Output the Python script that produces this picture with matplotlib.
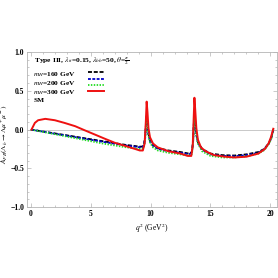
import matplotlib
matplotlib.use('Agg')
import matplotlib.pyplot as plt
from matplotlib.ticker import MultipleLocator

plt.rcParams['font.family'] = ['Liberation Serif', 'DejaVu Serif']
plt.rcParams['mathtext.fontset'] = 'stix'

# --- data ---
q_h = [0, 1, 2, 3, 4, 5, 6, 7, 8, 8.6, 9.0, 9.3, 9.45, 9.55, 9.62, 9.67, 9.72, 9.8, 9.95,
       10.2, 10.6, 11.5, 12.5, 13.2, 13.45, 13.55, 13.62, 13.66, 13.72, 13.8, 13.95,
       14.3, 15.0, 16.0, 17.0, 18.0, 19.0, 19.5, 19.9, 20.1, 20.25]
afb_160 = [0, -0.025, -0.05, -0.075, -0.10, -0.125, -0.15, -0.175, -0.20,
           -0.21, -0.22, -0.22, -0.19, -0.08, 0.08, 0.18, 0.10, -0.04, -0.14,
           -0.20, -0.24, -0.27, -0.29, -0.31, -0.29, -0.15, 0.10, 0.25, 0.12, -0.04, -0.16,
           -0.25, -0.31, -0.33, -0.335, -0.32, -0.29, -0.25, -0.17, -0.10, 0.0]
afb_200 = [0, -0.027, -0.054, -0.08, -0.106, -0.132, -0.158, -0.183, -0.207,
           -0.218, -0.228, -0.228, -0.20, -0.09, 0.07, 0.17, 0.09, -0.05, -0.15,
           -0.21, -0.25, -0.28, -0.30, -0.32, -0.30, -0.16, 0.09, 0.24, 0.11, -0.05, -0.17,
           -0.26, -0.32, -0.34, -0.345, -0.33, -0.30, -0.255, -0.175, -0.10, 0.0]
afb_300 = [0, -0.03, -0.06, -0.09, -0.12, -0.15, -0.18, -0.205, -0.23,
           -0.24, -0.25, -0.25, -0.22, -0.11, 0.05, 0.16, 0.08, -0.06, -0.17,
           -0.23, -0.27, -0.30, -0.32, -0.335, -0.315, -0.17, 0.08, 0.23, 0.10, -0.06, -0.18,
           -0.28, -0.34, -0.36, -0.36, -0.345, -0.31, -0.265, -0.18, -0.11, 0.0]

q_sm = [0.05, 0.33, 0.6, 1.2, 2.0, 2.8, 3.7, 4.5, 5.35, 6.2,
        7.0, 7.85, 8.7, 9.1, 9.35, 9.5, 9.6, 9.67, 9.74, 9.82,
        9.95, 10.2, 10.6, 11.5, 12.5, 13.1, 13.4, 13.52, 13.6, 13.66,
        13.73, 13.82, 13.95, 14.2, 14.6, 15.3, 16.2, 17.0, 18.0, 19.0,
        19.55, 19.85, 20.05, 20.25]
afb_sm = [0.0, 0.086, 0.12, 0.138, 0.12, 0.086, 0.043, -0.01, -0.065, -0.12,
          -0.17, -0.21, -0.25, -0.27, -0.27, -0.18, 0.1, 0.36, 0.22, 0.02,
          -0.1, -0.18, -0.23, -0.28, -0.31, -0.34, -0.34, -0.2, 0.15, 0.41,
          0.25, 0.02, -0.13, -0.23, -0.28, -0.33, -0.35, -0.36, -0.35, -0.31,
          -0.25, -0.18, -0.10, 0.01]

labels = [r'$m_H$=160 GeV', r'$m_H$=200 GeV', r'$m_H$=300 GeV', 'SM']

fig = plt.figure(figsize=(2.78, 2.78), dpi=100)
ax = fig.add_axes([0.097, 0.255, 0.899, 0.558])

frame = '#b4b4b4'
ax.axhline(0, color='#c8c8c8', lw=0.7, zorder=0)
l1, = ax.plot(q_h, afb_160, color='black', lw=1.3, ls=(0, (2.2, 1.0)))
l2, = ax.plot(q_h, afb_200, color='#0000cc', lw=1.3, ls=(0, (1.6, 0.8)))
l3, = ax.plot(q_h, afb_300, color='#22dd22', lw=1.3, ls=(0, (0.8, 0.8)))
l4, = ax.plot(q_sm, afb_sm, color='#ee1111', lw=1.4)

ax.set_xlim(-0.33, 20.55)
ax.set_ylim(-1, 1)
ax.xaxis.set_minor_locator(MultipleLocator(1))
ax.yaxis.set_minor_locator(MultipleLocator(0.1))
ax.set_yticks([-1, -0.5, 0, 0.5, 1])
ax.set_yticklabels(['\u22121.0', '\u22120.5', '0.0', '0.5', '1.0'])
ax.set_xticks([0, 5, 10, 15, 20])
ax.set_xticklabels(['0', '5', '10', '15', '20'])
ax.tick_params(which='both', direction='in', top=True, right=True, color=frame,
               labelsize=5.5, width=0.5, pad=2)
ax.tick_params(which='major', length=3)
ax.tick_params(which='minor', length=1.6)
for lab in ax.get_xticklabels() + ax.get_yticklabels():
    lab.set_fontweight('bold')
for s in ax.spines.values():
    s.set_color(frame)
    s.set_linewidth(0.6)

ax.set_xlabel(r'$q^2$ (GeV$^2$)', fontsize=5.5, labelpad=3)
ax.set_ylabel(r'$A_{FB}(\Lambda_b\rightarrow\Lambda\mu^+\mu^-)$', fontsize=5.3)
ax.yaxis.set_label_coords(-0.072, 0.47)

ax.text(0.03, 0.94, r'Type III, $\lambda_{tt}$=0.15, $\lambda_{bb}$=50, $\theta$=$\frac{\pi}{2}$',
        transform=ax.transAxes, fontsize=5.4, va='center', ha='left', fontweight='bold')

handles = [l1, l2, l3, l4]
leg_txt = ax.legend(handles, labels, loc='upper left', bbox_to_anchor=(0.025, 0.885),
                    frameon=False, fontsize=5.3, handlelength=0, handletextpad=0,
                    labelspacing=0.02, borderpad=0, borderaxespad=0)
for h in leg_txt.legend_handles:
    h.set_visible(False)
for t in leg_txt.get_texts():
    t.set_fontweight('bold')
ax.add_artist(leg_txt)
ax.legend(handles, [' '] * 4, loc='upper left', bbox_to_anchor=(0.245, 0.885),
          frameon=False, fontsize=5.3, handlelength=2.1, handletextpad=0,
          labelspacing=0.02, borderpad=0, borderaxespad=0)

fig.savefig('out.png', dpi=100)
